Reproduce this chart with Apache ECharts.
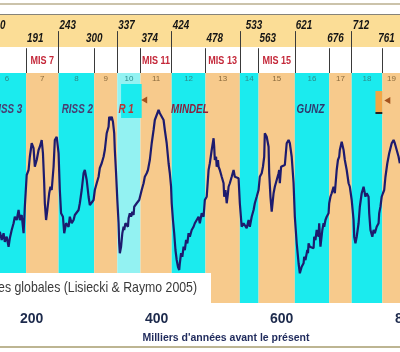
<!DOCTYPE html>
<html>
<head>
<meta charset="utf-8">
<script src="https://cdn.jsdelivr.net/npm/echarts@6/dist/echarts.min.js"></script>
<style>
  html, body { margin: 0; padding: 0; background: #fff; }
  #chart { width: 400px; height: 352px; }
</style>
</head>
<body>
<div id="chart"></div>
<script>
// MIS boundaries (ka) and the stage between each pair
const stageBounds = [130, 191, 243, 300, 337, 374, 424, 478, 533, 563, 621, 676, 712, 761, 790];
const stageNumbers = ['6', '7', '8', '9', '10', '11', '12', '13', '14', '15', '16', '17', '18', '19'];
const misLabels = ['MIS 7', 'MIS 11', 'MIS 13', 'MIS 15'];
const misStages = ['7', '11', '13', '15'];
const glaciationNames = ['RISS 3', 'RISS 2', 'R 1', 'MINDEL', 'GUNZ'];
const glaciationAges = [160, 273, 351, 453, 646];

// global temperature stack: [ka, anomaly]
const stack = [
  [149,-3.87],[152,-4.20],[155,-3.93],[157,-4.27],[160,-4.07],[163,-4.47],[165,-4.13],[168,-3.80],[171,-3.53],[173,-3.27],
  [176,-3.40],[179,-3.00],[181,-3.40],[184,-3.20],[187,-3.93],[189,-2.87],[192,-1.60],[195,-1.40],[197,-0.87],[200,-0.33],
  [203,-0.53],[205,-1.27],[208,-1.00],[211,-0.60],[213,-0.47],[216,-0.20],[218,-0.73],[220,-1.93],[221,-2.73],[223,-3.40],
  [225,-3.00],[228,-2.33],[230,-2.07],[232,-2.20],[235,-1.27],[237,-0.20],[240,-0.07],[243,-0.73],[245,-2.20],[247,-3.13],
  [250,-3.27],[252,-3.93],[255,-3.53],[259,-3.67],[261,-3.27],[264,-3.53],[267,-3.40],[269,-3.20],[272,-3.27],[275,-3.00],
  [277,-2.73],[280,-2.20],[283,-1.53],[285,-1.40],[288,-1.80],[291,-2.47],[293,-2.80],[296,-2.87],[299,-2.60],[301,-2.20],
  [304,-1.93],[307,-1.67],
  [309,-1.32],[312,-1.13],[315,-0.87],[317,-0.60],[320,0.07],[323,0.33],[324,0.73],[326,0.60],[328,0.73],[330,0.53],
  [332,0.07],[333,-0.60],[335,-1.53],[337,-2.60],[339,-3.53],[340,-4.33],[341,-4.73],[343,-4.47],[345,-3.93],[347,-3.67],
  [348,-3.80],[350,-3.53],[352,-3.47],[354,-3.67],[355,-3.33],[357,-3.13],[359,-3.27],[361,-3.07],[363,-3.20],[364,-2.87],
  [366,-2.93],[368,-2.73],[370,-2.80],[372,-2.60],[374,-2.53],[376,-2.20],[379,-1.93],[381,-1.67],[384,-1.53],[386,-1.40],
  [388,-1.13],[389,-1.00],[392,-0.33],[395,0.20],[397,0.60],[400,0.80],[403,1.00],[405,0.87],[408,0.80],[411,0.60],
  [413,0.20],[416,-0.33],[419,-1.13],[421,-1.53],[423,-2.07],[424,-2.73],[426,-3.40],[428,-3.93],[430,-4.60],[432,-5.00],
  [434,-5.27],[436,-5.40],[437,-5.13],[439,-4.73],[441,-4.87],[443,-4.47],[445,-4.60],[447,-4.20],[449,-4.33],[451,-3.93],
  [453,-4.07],[456,-3.80],[459,-3.67],[461,-3.53],[464,-3.40],[467,-3.27],
  [469,-3.53],[472,-3.13],[475,-3.27],[477,-2.60],[480,-2.47],[483,-1.40],[485,-1.13],[488,-0.60],[491,-0.13],[492,-0.47],
  [493,-1.00],[495,-0.87],[496,-1.27],[498,-1.00],[499,-1.27],[501,-1.40],[504,-1.67],[507,-1.93],[508,-2.47],[510,-2.20],
  [512,-2.73],[514,-2.33],[515,-2.07],[517,-1.93],[520,-1.67],[523,-1.40],[525,-1.67],[528,-1.73],[531,-1.73],[532,-1.80],
  [533,-2.73],[536,-3.67],[539,-3.53],[541,-3.47],[544,-3.73],[547,-3.40],[549,-3.67],[552,-3.27],[555,-3.00],[557,-2.73],
  [560,-2.47],[563,-2.20],[565,-1.67],[568,-1.53],[570,-1.27],[572,-0.87],[573,0.07],[576,-0.07],[579,-0.47],[580,-1.53],
  [582,-2.47],[584,-3.07],[587,-2.33],[589,-2.07],[592,-1.80],[595,-1.53],[596,-1.40],[597,-1.93],[599,-1.27],[602,-1.20],
  [605,-1.20],[608,-0.33],[611,-0.20],[613,-0.33],[616,-0.87],[619,-1.93],[621,-3.27],[624,-4.33],[627,-5.13],
  [629,-5.53],[632,-5.27],[635,-5.13],[636,-4.87],[638,-5.00],[641,-4.60],[642,-4.73],[643,-4.33],[645,-4.47],[648,-4.40],
  [651,-4.53],[652,-4.07],[654,-4.20],[656,-3.80],[659,-4.07],[660,-3.53],[662,-4.47],[665,-3.80],[667,-3.53],[668,-3.67],
  [670,-3.40],[672,-3.27],[675,-3.13],[676,-2.73],[678,-2.47],[680,-2.33],[683,-2.07],[685,-2.33],[688,-1.40],[690,-1.00],
  [692,-0.87],[693,-0.60],[696,-0.27],[699,-0.60],[701,-1.00],[704,-1.40],[707,-1.93],[709,-2.07],[712,-2.60],[715,-3.40],
  [716,-4.07],[718,-4.33],[720,-4.07],[723,-3.53],[725,-2.87],[728,-2.33],[731,-2.07],[732,-2.20],[734,-2.47],[736,-2.33],
  [739,-2.47],[740,-3.13],[742,-3.80],[745,-4.07],[747,-3.80],[749,-3.93],[752,-3.67],[755,-3.53],[756,-3.13],[758,-2.87],
  [760,-2.47],[762,-2.33],[764,-2.20],[766,-1.67],[769,-1.13],[772,-0.73],[776,-0.33],[779,-0.20],[781,-0.33],[784,-0.60],
  [787,-0.87],[789,-1.13]
];

const SANS = '"Liberation Sans", Arial, sans-serif';
const SQUEEZE = 0.82; // narrow look of the original lettering
const CYAN = '#1bebee', ORANGE = '#f7ca8c', PALE = '#93f2f2';
const glacColors = {'RISS 3': '#4a3c70', 'RISS 2': '#4a3c70', 'R 1': '#b83434', 'MINDEL': '#8c1e3c', 'GUNZ': '#2f3a6e'};
const nudge = {533: 5, 676: -3, 761: -5};

const chart = echarts.init(document.getElementById('chart'));

const bandColor = s => s === '10' ? PALE : (Number(s) % 2 ? ORANGE : CYAN);
const bands = stageNumbers.map((s, i) => [
  {xAxis: stageBounds[i], name: s, itemStyle: {color: bandColor(s)},
   label: {color: Number(s) % 2 ? '#8a6a3c' : '#2c8c8c'}},
  {xAxis: stageBounds[i + 1]}
]);
// small boxes drawn over the bands
bands.push([{coord: [343, 2.04], itemStyle: {color: CYAN}, label: {show: false}}, {coord: [376, 0.68]}]);
bands.push([{coord: [750, 1.76], itemStyle: {color: '#f2a646'}, label: {show: false}}, {coord: [761, 0.92]}]);
bands.push([{coord: [750, 0.92], itemStyle: {color: '#222'}, label: {show: false}}, {coord: [761, 0.84]}]);

const boundLines = stageBounds.map((b, i) => [
  {coord: [b, i % 2 === 0 ? 0.71 : 0.42]}, {coord: [b, 0]}
]);

// text marks placed through the axes, squeezed horizontally
function textSeries(grid, items, z) {
  return {
    type: 'custom', xAxisIndex: grid, yAxisIndex: grid, silent: true, z: z || 6,
    data: items.map(t => [t.x, t.y]),
    renderItem(params, api) {
      const t = items[params.dataIndex];
      const p = api.coord([api.value(0), api.value(1)]);
      return {
        type: 'text', x: p[0] + (t.dx || 0), y: p[1], scaleX: SQUEEZE,
        style: {text: t.text, font: t.font, fill: t.color, align: t.align || 'center', verticalAlign: 'middle'}
      };
    }
  };
}

const headerItems = stageBounds.map((b, i) => ({
  x: b, y: i % 2 === 0 ? 0.81 : 0.575, text: String(b),
  align: b === 300 ? 'center' : 'left', dx: b === 300 ? 0 : 1 + (nudge[b] || 0),
  font: 'italic bold 12px ' + SANS, color: '#151515'
}));
const misItems = misLabels.map((m, i) => {
  const k = stageNumbers.indexOf(misStages[i]);
  return {x: (stageBounds[k] + stageBounds[k + 1]) / 2, y: 0.2, text: m,
          font: 'bold 11px ' + SANS, color: '#c4283a'};
});
const glacItems = glaciationNames.map((n, i) => ({
  x: glaciationAges[i], y: 1.0, text: n, font: 'italic bold 12px ' + SANS, color: glacColors[n]
}));

chart.setOption({
  animation: false,
  grid: [
    {left: -93.3, right: -6.7, top: 14, height: 59, containLabel: false, outerBoundsMode: 'none'},
    {left: -93.3, right: -6.7, top: 73, height: 230, containLabel: false, outerBoundsMode: 'none'}
  ],
  xAxis: [
    {gridIndex: 0, type: 'value', min: 0, max: 800, show: false},
    {gridIndex: 1, type: 'value', min: 0, max: 800, interval: 200,
     axisLine: {show: false}, splitLine: {show: false},
     axisTick: {inside: true, length: 4, lineStyle: {color: '#333'}},
     axisLabel: {fontFamily: SANS, fontWeight: 'bold', fontSize: 14, color: '#1d2a4c', margin: 9,
                 showMinLabel: true, showMaxLabel: true}}
  ],
  yAxis: [
    {gridIndex: 0, type: 'value', min: 0, max: 1, show: false},
    {gridIndex: 1, type: 'value', min: -6.72, max: 2.48, show: false}
  ],
  graphic: {elements: [
    {type: 'rect', shape: {x: 0, y: 3, width: 400, height: 2}, style: {fill: '#cbc3ab'}, z: -1},
    {type: 'rect', shape: {x: 0, y: 14, width: 400, height: 33}, style: {fill: '#fbdd96'}, z: -1},
    {type: 'rect', shape: {x: 0, y: 14, width: 400, height: 1}, style: {fill: '#85837a'}, z: -1},
    {type: 'rect', shape: {x: 0, y: 346, width: 400, height: 2}, style: {fill: '#bdb592'}, z: -1},
    {type: 'rect', shape: {x: 0, y: 273, width: 211, height: 30}, style: {fill: '#fff'}, z: 100},
    {type: 'text', x: 197, y: 288, z: 101, scaleX: SQUEEZE,
     style: {text: 'Températures globales (Lisiecki & Raymo 2005)', fill: '#3a3a3a',
             font: '15px ' + SANS, textAlign: 'right', textVerticalAlign: 'middle'}},
    {type: 'text', x: 226, y: 338, z: 101,
     style: {text: "Milliers d'années avant le présent", fill: '#1f2a5c',
             font: 'bold 10.5px ' + SANS, textAlign: 'center', textVerticalAlign: 'middle'}}
  ]},
  series: [
    {
      type: 'line', xAxisIndex: 0, yAxisIndex: 0, data: [], silent: true,
      markLine: {silent: true, symbol: 'none', label: {show: false},
                 lineStyle: {color: '#3a3a3a', width: 1, type: 'solid'}, data: boundLines}
    },
    textSeries(0, headerItems),
    textSeries(0, misItems),
    {
      type: 'line', xAxisIndex: 1, yAxisIndex: 1, data: [], silent: true,
      markArea: {silent: true, label: {show: true, position: 'insideTop', distance: 2, fontSize: 8,
                                       fontFamily: 'Arial, sans-serif'},
                 data: bands},
      markPoint: {silent: true, symbol: 'triangle', symbolRotate: 90, symbolSize: [7, 6],
                  itemStyle: {color: '#a4531e'}, label: {show: false},
                  data: [{coord: [380, 1.4]}, {coord: [769, 1.38]}]}
    },
    {
      type: 'line', xAxisIndex: 1, yAxisIndex: 1, z: 5, showSymbol: false, silent: true,
      data: stack, lineStyle: {color: '#1d1b6e', width: 2.2}
    },
    textSeries(1, glacItems)
  ]
});
</script>
</body>
</html>
